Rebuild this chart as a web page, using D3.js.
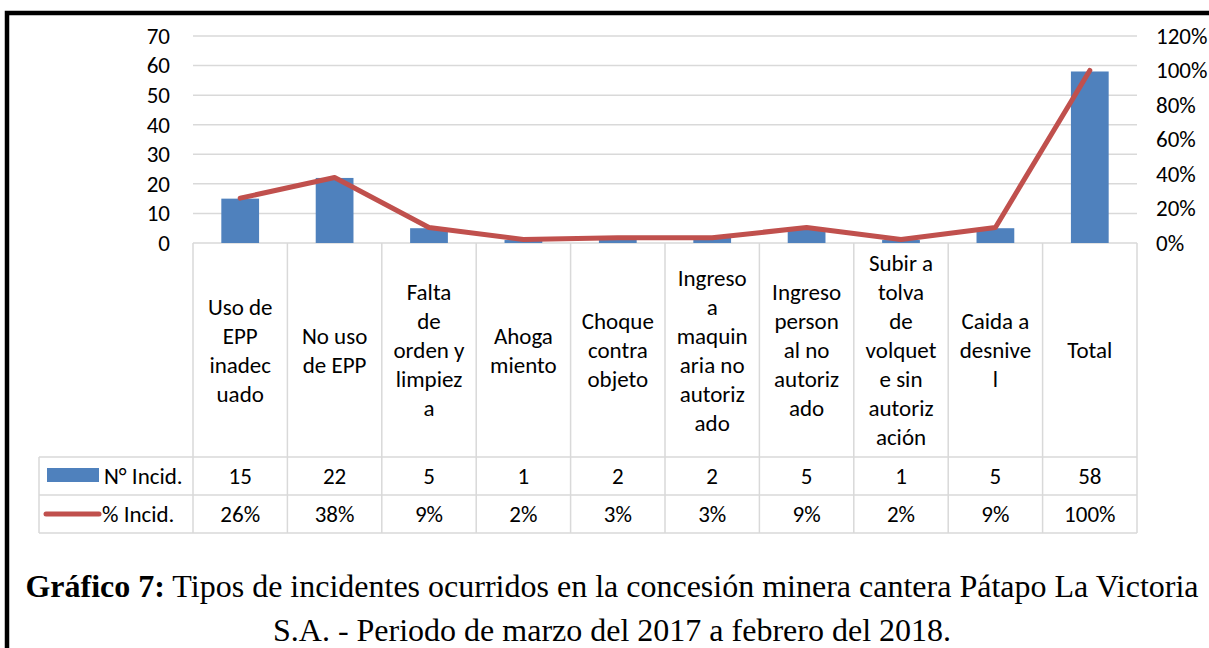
<!DOCTYPE html>
<html>
<head>
<meta charset="utf-8">
<script src="https://cdn.jsdelivr.net/npm/d3@7"></script>
<style>
  html, body { margin: 0; padding: 0; background: #fff; }
  svg { display: block; }
</style>
</head>
<body>
<svg id="chart" width="1209" height="648"></svg>
<script>
// ---- data ----
const categoryLines = [
  ["Uso de", "EPP", "inadec", "uado"],
  ["No uso", "de EPP"],
  ["Falta", "de", "orden y", "limpiez", "a"],
  ["Ahoga", "miento"],
  ["Choque", "contra", "objeto"],
  ["Ingreso", "a", "maquin", "aria no", "autoriz", "ado"],
  ["Ingreso", "person", "al no", "autoriz", "ado"],
  ["Subir a", "tolva", "de", "volquet", "e sin", "autoriz", "ación"],
  ["Caida a", "desnive", "l"],
  ["Total"]
];
const counts = [15, 22, 5, 1, 2, 2, 5, 1, 5, 58];
const percents = [26, 38, 9, 2, 3, 3, 9, 2, 9, 100];
const leftTicks = [0, 10, 20, 30, 40, 50, 60, 70];
const rightTicks = [0, 20, 40, 60, 80, 100, 120];
const seriesNames = ["N° Incid.", "% Incid."];
const captionBold = "Gráfico 7:";
const captionLine1 = " Tipos de incidentes ocurridos en la concesión minera cantera Pátapo La Victoria";
const captionLine2 = "S.A. - Periodo de marzo del 2017 a febrero del 2018.";

// ---- layout ----
const barColor = "#4F81BD";
const lineColor = "#C0504D";
const gridColor = "#D9D9D9";
const font = "Carlito, Lato, 'Open Sans', sans-serif";
const fs = 23;
const plotLeft = 193, plotRight = 1137, plotTop = 36, plotBottom = 243;
const tableLeft = 39, row1Top = 457, row2Top = 495, tableBottom = 533;

const svg = d3.select("#chart");

// outer border (thick black frame, partly outside the picture)
svg.append("path")
  .attr("d", `M7,650 L7,13 L1215,13`)
  .attr("fill", "none").attr("stroke", "#000").attr("stroke-width", 4.5);

const idx = d3.range(counts.length);
const x = d3.scaleBand().domain(idx).range([plotLeft, plotRight]).padding(0);
const yL = d3.scaleLinear().domain([0, 70]).range([plotBottom, plotTop]);
const yR = d3.scaleLinear().domain([0, 120]).range([plotBottom, plotTop]);

// gridlines
svg.append("g").selectAll("line").data(leftTicks).join("line")
  .attr("x1", plotLeft).attr("x2", plotRight)
  .attr("y1", d => yL(d)).attr("y2", d => yL(d))
  .attr("stroke", gridColor).attr("stroke-width", 1.5);

// left axis
const gL = svg.append("g").attr("transform", `translate(${plotLeft},0)`)
  .call(d3.axisLeft(yL).tickValues(leftTicks).tickSize(0).tickPadding(23));
gL.select(".domain").remove();
gL.selectAll("text").attr("font-family", font).attr("font-size", fs).attr("fill", "#000");

// right axis
const gR = svg.append("g").attr("transform", `translate(${plotRight},0)`)
  .call(d3.axisRight(yR).tickValues(rightTicks).tickSize(0).tickPadding(19).tickFormat(d => d + "%"));
gR.select(".domain").remove();
gR.selectAll("text").attr("font-family", font).attr("font-size", fs).attr("fill", "#000");

// bars
const bw = x.bandwidth() * 0.4;
svg.append("g").selectAll("rect").data(idx).join("rect")
  .attr("x", i => x(i) + (x.bandwidth() - bw) / 2)
  .attr("width", bw)
  .attr("y", i => yL(counts[i]))
  .attr("height", i => yL(0) - yL(counts[i]))
  .attr("fill", barColor);

// line
const line = d3.line().x(i => x(i) + x.bandwidth() / 2).y(i => yR(percents[i]));
svg.append("path").datum(idx).attr("d", line)
  .attr("fill", "none").attr("stroke", lineColor).attr("stroke-width", 5)
  .attr("stroke-linejoin", "round").attr("stroke-linecap", "round");

// ---- data table ----
const tg = svg.append("g").attr("stroke", gridColor).attr("stroke-width", 1.5);
tg.selectAll("line.v").data(d3.range(counts.length + 1)).join("line")
  .attr("class", "v")
  .attr("x1", i => plotLeft + i * x.bandwidth()).attr("x2", i => plotLeft + i * x.bandwidth())
  .attr("y1", plotBottom).attr("y2", tableBottom);
tg.append("line").attr("x1", tableLeft).attr("x2", tableLeft).attr("y1", row1Top).attr("y2", tableBottom);
[row1Top, row2Top, tableBottom].forEach(yy => {
  tg.append("line").attr("x1", tableLeft).attr("x2", plotRight).attr("y1", yy).attr("y2", yy);
});

// category labels
const lineH = 29;
const catCenter = (plotBottom + row1Top) / 2;
const cg = svg.append("g").attr("font-family", font).attr("font-size", fs).attr("text-anchor", "middle");
categoryLines.forEach((lines, i) => {
  const cx = x(i) + x.bandwidth() / 2;
  const start = catCenter - (lines.length - 1) * lineH / 2;
  lines.forEach((t, k) => {
    cg.append("text").attr("x", cx).attr("y", start + k * lineH).attr("dy", "0.35em").text(t);
  });
});

// values
const vg = svg.append("g").attr("font-family", font).attr("font-size", fs).attr("text-anchor", "middle");
idx.forEach(i => {
  const cx = x(i) + x.bandwidth() / 2;
  vg.append("text").attr("x", cx).attr("y", (row1Top + row2Top) / 2).attr("dy", "0.35em").text(counts[i]);
  vg.append("text").attr("x", cx).attr("y", (row2Top + tableBottom) / 2).attr("dy", "0.35em").text(percents[i] + "%");
});

// legend keys
svg.append("rect").attr("x", 47).attr("y", 468).attr("width", 52).attr("height", 14).attr("fill", barColor);
svg.append("line").attr("x1", 46).attr("x2", 99).attr("y1", 514).attr("y2", 514)
  .attr("stroke", lineColor).attr("stroke-width", 5).attr("stroke-linecap", "round");
const lg = svg.append("g").attr("font-family", font).attr("font-size", fs);
lg.append("text").attr("x", 104).attr("y", (row1Top + row2Top) / 2).attr("dy", "0.35em").text(seriesNames[0]);
lg.append("text").attr("x", 102).attr("y", (row2Top + tableBottom) / 2).attr("dy", "0.35em").text(seriesNames[1]);

// caption
const capFont = "'Liberation Serif', 'Times New Roman', serif";
const c1 = svg.append("text").attr("x", 612).attr("y", 597).attr("text-anchor", "middle")
  .attr("font-family", capFont).attr("font-size", 32);
c1.append("tspan").attr("font-weight", "bold").text(captionBold);
c1.append("tspan").text(captionLine1);
svg.append("text").attr("x", 612).attr("y", 641).attr("text-anchor", "middle")
  .attr("font-family", capFont).attr("font-size", 32).text(captionLine2);
</script>
</body>
</html>
